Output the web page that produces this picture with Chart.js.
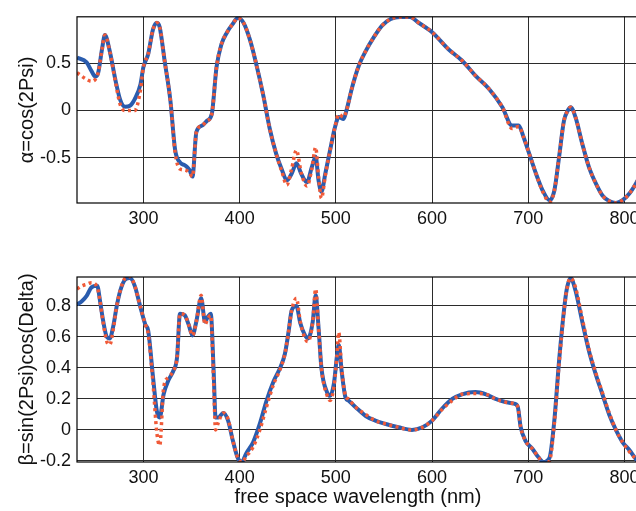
<!DOCTYPE html>
<html>
<head>
	<meta charset="utf-8" />
	<title>Ellipsometric parameters</title>
	<script src="https://cdn.jsdelivr.net/npm/chart.js@4.4.1/dist/chart.umd.min.js"></script>
	<style>
		html, body {
			margin: 0;
			padding: 0;
			background: #fff;
			overflow: hidden;
			width: 636px;
			height: 511px;
		}
		.plot {
			position: absolute;
			left: 0;
			width: 660px;
		}
		#alphaBox { top: 0; height: 240px; }
		#betaBox { top: 260px; height: 251px; }
	</style>
</head>
<body>
	<div class="plot" id="alphaBox"><canvas id="alphaPlot"></canvas></div>
	<div class="plot" id="betaBox"><canvas id="betaPlot"></canvas></div>

	<script type="text/javascript">
		// alpha = cos(2Psi): measured (solid) and model (dotted)
		var lambdaA = [231, 241, 246, 250, 253, 257, 260, 265, 271, 276, 281, 286, 291, 297, 300, 305, 310, 314, 317, 322, 328, 333, 338, 343, 348, 351, 355, 361, 366, 371, 376, 381, 387, 393, 398, 404, 411, 418, 425, 431, 438, 444, 449, 454, 459, 464, 470, 475, 479, 482, 485, 489, 494, 499, 503, 508, 511, 517, 524, 531, 539, 548, 557, 567, 577, 586, 600, 617, 631, 645, 659, 673, 683, 690, 695, 701, 708, 715, 722, 727, 732, 737, 741, 744, 749, 756, 763, 770, 777, 784, 791, 798, 805, 812, 820]
		var alphaMeas = [0.56, 0.51, 0.42, 0.36, 0.40, 0.65, 0.80, 0.63, 0.32, 0.11, 0.04, 0.05, 0.12, 0.28, 0.46, 0.60, 0.86, 0.93, 0.88, 0.53, 0.11, -0.42, -0.55, -0.58, -0.63, -0.70, -0.23, -0.16, -0.11, -0.04, 0.46, 0.70, 0.83, 0.92, 0.98, 0.93, 0.74, 0.46, 0.14, -0.18, -0.46, -0.63, -0.74, -0.67, -0.56, -0.67, -0.76, -0.60, -0.49, -0.74, -0.86, -0.67, -0.42, -0.18, -0.07, -0.09, 0, 0.25, 0.48, 0.63, 0.77, 0.90, 0.97, 0.99, 0.99, 0.93, 0.83, 0.65, 0.53, 0.37, 0.23, 0.035, -0.16, -0.16, -0.28, -0.46, -0.67, -0.85, -0.95, -0.85, -0.49, -0.11, 0, 0.035, -0.07, -0.35, -0.60, -0.77, -0.90, -0.96, -0.98, -0.95, -0.88, -0.77, -0.62]
		var alphaModel = [0.40, 0.33, 0.31, 0.33, 0.40, 0.65, 0.80, 0.63, 0.30, 0.06, 0.0, 0.0, 0.0, 0.22, 0.46, 0.60, 0.86, 0.93, 0.88, 0.53, 0.11, -0.45, -0.62, -0.63, -0.66, -0.70, -0.23, -0.16, -0.11, -0.04, 0.46, 0.70, 0.83, 0.92, 0.98, 0.93, 0.74, 0.46, 0.14, -0.18, -0.46, -0.65, -0.79, -0.62, -0.42, -0.66, -0.80, -0.62, -0.39, -0.70, -0.93, -0.69, -0.42, -0.18, -0.04, -0.07, 0, 0.25, 0.48, 0.63, 0.77, 0.90, 0.97, 0.99, 0.99, 0.93, 0.83, 0.65, 0.53, 0.37, 0.23, 0.035, -0.19, -0.17, -0.28, -0.46, -0.67, -0.86, -0.97, -0.85, -0.49, -0.11, 0, 0.035, -0.07, -0.35, -0.60, -0.77, -0.90, -0.96, -0.98, -0.95, -0.88, -0.77, -0.62]

		// beta = sin(2Psi)cos(Delta)
		var lambdaB = [231, 236, 241, 246, 252, 255, 258, 262, 265, 269, 272, 276, 281, 286, 291, 297, 302, 305, 310, 314, 317, 321, 326, 331, 335, 338, 343, 347, 351, 355, 360, 364, 367, 370, 373, 375, 378, 383, 388, 393, 398, 402, 407, 414, 421, 428, 435, 442, 447, 451, 454, 459, 463, 468, 471, 476, 479, 482, 485, 491, 494, 498, 501, 503, 506, 510, 513, 520, 531, 541, 551, 565, 579, 590, 600, 610, 621, 631, 645, 656, 666, 676, 685, 689, 692, 697, 704, 711, 716, 722, 727, 732, 737, 740, 744, 749, 756, 763, 770, 777, 784, 791, 798, 805, 812, 820]
		var betaMeas = [0.81, 0.83, 0.865, 0.92, 0.93, 0.83, 0.71, 0.60, 0.59, 0.68, 0.79, 0.90, 0.97, 0.98, 0.93, 0.79, 0.68, 0.64, 0.34, 0.12, 0.08, 0.23, 0.32, 0.38, 0.47, 0.75, 0.74, 0.68, 0.61, 0.70, 0.85, 0.70, 0.73, 0.75, 0.38, 0.08, 0.08, 0.11, 0.06, -0.07, -0.18, -0.21, -0.15, -0.08, 0.04, 0.19, 0.31, 0.40, 0.49, 0.64, 0.77, 0.80, 0.69, 0.61, 0.59, 0.70, 0.87, 0.66, 0.40, 0.24, 0.22, 0.30, 0.47, 0.55, 0.38, 0.21, 0.19, 0.15, 0.09, 0.06, 0.04, 0.017, 0.0, 0.017, 0.06, 0.135, 0.20, 0.23, 0.245, 0.23, 0.20, 0.18, 0.17, 0.15, 0.02, -0.07, -0.12, -0.18, -0.21, -0.18, 0.06, 0.45, 0.77, 0.91, 0.98, 0.90, 0.70, 0.51, 0.36, 0.23, 0.10, 0.0, -0.08, -0.13, -0.19, -0.24]
		var betaModel = [0.91, 0.93, 0.94, 0.95, 0.92, 0.83, 0.70, 0.57, 0.55, 0.66, 0.79, 0.90, 0.98, 0.99, 0.93, 0.79, 0.68, 0.62, 0.30, -0.02, -0.10, 0.27, 0.34, 0.38, 0.47, 0.75, 0.74, 0.68, 0.61, 0.70, 0.87, 0.68, 0.72, 0.74, 0.30, 0.0, 0.05, 0.11, 0.07, -0.07, -0.18, -0.21, -0.17, -0.11, 0.0, 0.15, 0.29, 0.39, 0.49, 0.64, 0.77, 0.85, 0.70, 0.59, 0.57, 0.70, 0.91, 0.66, 0.40, 0.22, 0.19, 0.28, 0.47, 0.63, 0.40, 0.22, 0.20, 0.15, 0.10, 0.06, 0.04, 0.017, 0.0, 0.017, 0.06, 0.13, 0.19, 0.23, 0.235, 0.23, 0.20, 0.18, 0.17, 0.15, 0.02, -0.07, -0.12, -0.18, -0.22, -0.20, 0.04, 0.43, 0.76, 0.91, 0.98, 0.92, 0.72, 0.52, 0.37, 0.24, 0.11, 0.0, -0.08, -0.14, -0.19, -0.24]

		var xTicks = [300, 400, 500, 600, 700, 800]
		var alphaTicks = [-0.5, 0, 0.5]
		var betaTicks = [-0.2, 0, 0.2, 0.4, 0.6, 0.8]

		var blue = '#2a5cae'
		var orange = '#f05a38'
		var gridColor = '#2b2b2b'
		var fontFamily = "'Liberation Sans', Arial, Helvetica, sans-serif"

		function pairs(xs, ys) {
			var out = []
			for (var i = 0; i < xs.length; i++) out.push({ x: xs[i], y: ys[i] })
			return out
		}

		// box round the plot area (MATLAB-style axes frame)
		var frame = {
			id: 'frame',
			afterDraw: function (chart) {
				var a = chart.chartArea, ctx = chart.ctx
				ctx.save()
				ctx.strokeStyle = '#000'
				ctx.lineWidth = 1.2
				ctx.strokeRect(a.left, a.top, a.right - a.left, a.bottom - a.top)
				ctx.restore()
			}
		}

		function makePlot(id, xs, meas, model, yMin, yMax, yTicks, yTitle, xTitle, padTop, xHeight) {
			var ctx = document.getElementById(id).getContext('2d')
			return new Chart(ctx, {
				type: 'line',
				data: {
					datasets: [{
						label: 'model',
						data: pairs(xs, model),
						borderColor: orange,
						borderWidth: 3.5,
						borderDash: [3, 3.5],
						borderCapStyle: 'butt',
						pointRadius: 0,
						cubicInterpolationMode: 'monotone',
						order: 0
					}, {
						label: 'measured',
						data: pairs(xs, meas),
						borderColor: blue,
						borderWidth: 4,
						pointRadius: 0,
						cubicInterpolationMode: 'monotone',
						order: 1
					}]
				},
				options: {
					responsive: true,
					maintainAspectRatio: false,
					animation: false,
					events: [],
					layout: { padding: { top: padTop, right: 21, left: 0, bottom: 0 } },
					plugins: { legend: { display: false }, tooltip: { enabled: false } },
					scales: {
						x: {
							type: 'linear',
							min: 231,
							max: 815,
							afterBuildTicks: function (s) { s.ticks = xTicks.map(function (v) { return { value: v } }) },
							afterFit: function (s) { s.height = xHeight },
							grid: { color: gridColor, lineWidth: 1, drawTicks: false },
							border: { display: false },
							ticks: { color: '#111', padding: 5, maxRotation: 0, font: { family: fontFamily, size: 18 } },
							title: {
								display: !!xTitle,
								text: xTitle,
								color: '#111',
								padding: { top: 0, bottom: 2 },
								font: { family: fontFamily, size: 20 }
							}
						},
						y: {
							min: yMin,
							max: yMax,
							afterBuildTicks: function (s) { s.ticks = yTicks.map(function (v) { return { value: v } }) },
							afterFit: function (s) { s.width = 77 },
							grid: { color: gridColor, lineWidth: 1, drawTicks: false },
							border: { display: false },
							ticks: { color: '#111', padding: 6, font: { family: fontFamily, size: 18 } },
							title: {
								display: true,
								text: yTitle,
								color: '#111',
								padding: { top: 15, bottom: 0 },
								font: { family: fontFamily, size: 20 }
							}
						}
					}
				},
				plugins: [frame]
			})
		}

		makePlot('alphaPlot', lambdaA, alphaMeas, alphaModel, -0.98, 0.993, alphaTicks, 'α=cos(2Psi)', '', 16, 37)
		makePlot('betaPlot', lambdaB, betaMeas, betaModel, -0.207, 0.987, betaTicks, 'β=sin(2Psi)cos(Delta)', 'free space wavelength (nm)', 17, 49)
	</script>
</body>
</html>
